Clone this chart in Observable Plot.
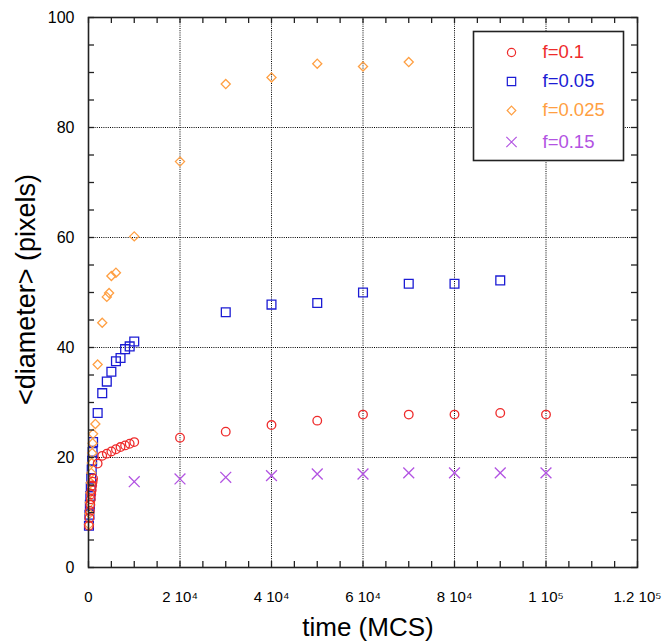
<!DOCTYPE html>
<html><head><meta charset="utf-8">
<script src="https://cdn.jsdelivr.net/npm/d3@7"></script>
<script src="https://cdn.jsdelivr.net/npm/@observablehq/plot@0.6"></script>
<style>body{margin:0;background:#fff}</style>
</head><body><div id="chart"></div>
<script>
// Series (time in MCS, mean diameter in pixels)
const seriesNames = ["f=0.1", "f=0.05", "f=0.025", "f=0.15"];
const seriesColors = ["#ee2b2b", "#1c1cd4", "#ff9f42", "#b253e2"];
const seriesSymbols = ["circle", "square2", "diamond2", "times"];

const timeF01 = [100,200,300,400,500,600,700,800,900,1000,2000,3000,4000,5000,6000,7000,8000,9000,10000,20000,30000,40000,50000,60000,70000,80000,90000,100000];
const diamF01 = [7.6,9.0,10.3,11.4,12.4,13.3,14.1,14.9,15.6,16.2,18.9,20.3,20.7,21.1,21.5,21.9,22.2,22.5,22.8,23.6,24.7,25.9,26.7,27.8,27.8,27.8,28.1,27.8];

const timeF005 = [100,200,300,400,500,600,700,800,900,1000,2000,3000,4000,5000,6000,7000,8000,9000,10000,30000,40000,50000,60000,70000,80000,90000];
const diamF005 = [7.6,9.6,11.4,13.0,14.6,16.2,17.8,19.4,21.0,22.8,28.1,31.7,33.8,35.6,37.5,38.1,39.7,40.2,41.1,46.4,47.8,48.1,50.0,51.6,51.6,52.2];

const timeF0025 = [100,200,300,400,500,600,700,800,900,1000,1500,2000,3000,4000,4500,5000,6000,10000,20000,30000,40000,50000,60000,70000];
const diamF0025 = [7.8,9.8,11.8,13.6,15.4,17.2,19.0,20.8,22.6,24.3,26.1,36.9,44.5,49.2,49.9,53.0,53.6,60.2,73.8,87.9,89.1,91.6,91.1,91.9];

const timeF015 = [10000,20000,30000,40000,50000,60000,70000,80000,90000,100000];
const diamF015 = [15.6,16.1,16.4,16.7,17.0,17.0,17.2,17.2,17.2,17.2];

// Axis ticks
const xTickValues = [0,20000,40000,60000,80000,100000,120000];
const xTickLabels = ["0","2 10\u2074","4 10\u2074","6 10\u2074","8 10\u2074","1 10\u2075","1.2 10\u2075"];
const xGrid = [20000,40000,60000,80000,100000];
const xMinor = d3.range(0, 120001, 5000);
const yTickValues = [0,20,40,60,80,100];
const yGrid = [20,40,60,80];
const yMinor = d3.range(0, 101, 5);

const times = [timeF01, timeF005, timeF0025, timeF015];
const diams = [diamF01, diamF005, diamF0025, diamF015];
const rows = [];
seriesNames.forEach((s, k) => times[k].forEach((t, i) => rows.push({series: s, time: t, diam: diams[k][i]})));

const symR = {"circle": 4.3, "square2": 5.6, "diamond2": 4.1, "times": 5};
const drawOrder = [1, 2, 0, 3];

const W = 670, H = 643, mL = 88, mR = 33, mT = 17, mB = 76;
const fw = W - mL - mR, fh = H - mT - mB;
const font = "'Liberation Sans', Arial, Helvetica, sans-serif";

const legendDy = [35, 64, 93, 124.5];

const marks = [
  Plot.gridX(xGrid, {stroke: "#000", strokeOpacity: 1, strokeDasharray: "1,1.2", strokeWidth: 1}),
  Plot.gridY(yGrid, {stroke: "#000", strokeOpacity: 1, strokeDasharray: "1,1.2", strokeWidth: 1}),
  // legend box
  Plot.frame({fill: "white", stroke: "#222", strokeWidth: 1.6,
    insetLeft: 385, insetTop: 14, insetRight: 14, insetBottom: fh - 143}),
  ...drawOrder.map(k => Plot.dot(rows.filter(d => d.series === seriesNames[k]), {
    x: "time", y: "diam", symbol: seriesSymbols[k], stroke: seriesColors[k],
    r: symR[seriesSymbols[k]], strokeWidth: 1.3, fill: "none"
  })),
  // legend entries
  ...seriesNames.map((s, k) => Plot.dot([s], {
    frameAnchor: "top-left", dx: 423, dy: legendDy[k], symbol: seriesSymbols[k],
    stroke: seriesColors[k], r: symR[seriesSymbols[k]] * 0.95, strokeWidth: 1.2, fill: "none"
  })),
  ...seriesNames.map((s, k) => Plot.text([s], {
    frameAnchor: "top-left", dx: 454, dy: legendDy[k], text: d => d, fill: seriesColors[k],
    fontSize: 18.5, textAnchor: "start", lineAnchor: "middle"
  })),
  Plot.frame({stroke: "#222", strokeWidth: 1.6}),
  // inward ticks
  Plot.tickX(xMinor, {x: d => d, insetTop: fh - 6, stroke: "#222", strokeWidth: 1.3}),
  Plot.tickX(xMinor, {x: d => d, insetBottom: fh - 6, stroke: "#222", strokeWidth: 1.3}),
  Plot.tickY(yMinor, {y: d => d, insetRight: fw - 6, stroke: "#222", strokeWidth: 1.3}),
  Plot.tickY(yMinor, {y: d => d, insetLeft: fw - 6, stroke: "#222", strokeWidth: 1.3}),
  Plot.axisX(xTickValues, {tickSize: 0, tickPadding: 24, fontSize: 15, label: null,
    tickFormat: d => xTickLabels[xTickValues.indexOf(d)]}),
  Plot.axisY(yTickValues, {tickSize: 0, tickPadding: 14, fontSize: 16, label: null}),
  Plot.text(["time (MCS)"], {frameAnchor: "bottom", textAnchor: "middle", lineAnchor: "middle", dx: 5, dy: 60, text: d => d, fontSize: 26, fill: "#000"}),
  Plot.text(["<diameter> (pixels)"], {frameAnchor: "left", textAnchor: "middle", lineAnchor: "middle", dx: -62, dy: -3, rotate: -90, text: d => d, fontSize: 27, fill: "#000"})
];

const chart = Plot.plot({
  width: W, height: H,
  marginLeft: mL, marginRight: mR, marginTop: mT, marginBottom: mB,
  x: {domain: [0, 120000]},
  y: {domain: [0, 100]},
  style: {fontFamily: font, background: "white", color: "#000"},
  marks
});
document.getElementById("chart").appendChild(chart);
</script>
</body></html>
